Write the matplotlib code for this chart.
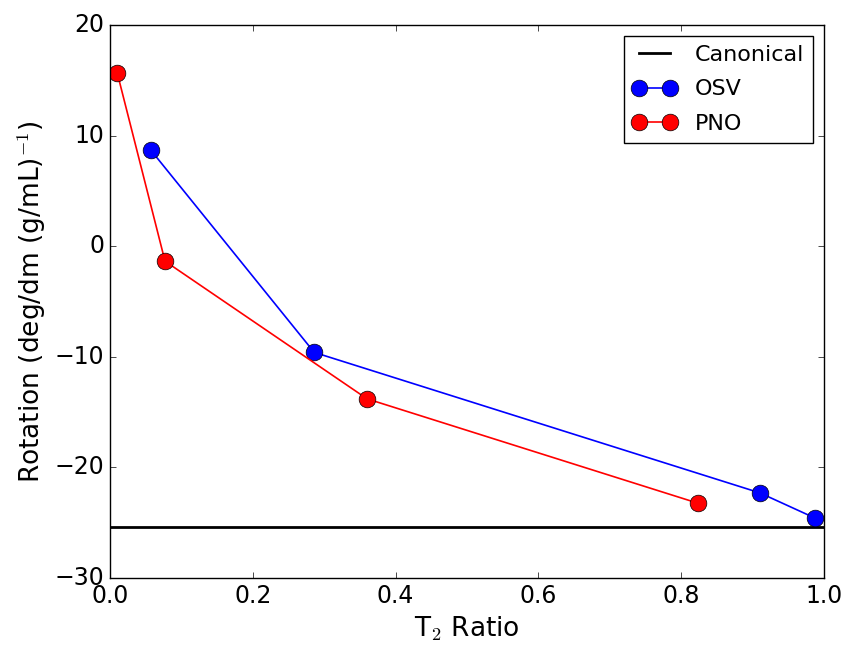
import matplotlib
matplotlib.use("Agg")
import matplotlib.pyplot as plt

# T2 ratio vs. optical rotation for the two truncation schemes
osv_ratio = [0.057, 0.286, 0.910, 0.988]
osv_rot = [8.7, -9.6, -22.3, -24.6]

pno_ratio = [0.010, 0.077, 0.360, 0.824]
pno_rot = [15.7, -1.35, -13.8, -23.25]

canonical_rot = -25.4

plt.style.use("classic")
plt.rcParams["figure.facecolor"] = "white"
plt.rcParams["savefig.facecolor"] = "white"

fig = plt.figure(figsize=(8.47, 6.49), dpi=100)
ax = fig.add_axes([0.1299, 0.1094, 0.843, 0.852])

ax.axhline(canonical_rot, color="black", lw=2, label="Canonical")
ax.plot(osv_ratio, osv_rot, "o-", color="blue", mfc="blue", mec="black",
        ms=12, lw=1.2, label="OSV")
ax.plot(pno_ratio, pno_rot, "o-", color="red", mfc="red", mec="black",
        ms=12, lw=1.2, label="PNO")

ax.set_xlim(0, 1)
ax.set_ylim(-30, 20)
ax.set_xlabel("T$_2$ Ratio", fontsize=19)
ax.set_ylabel("Rotation (deg/dm (g/mL)$^{-1}$)", fontsize=19)
ax.tick_params(labelsize=17)

ax.legend(loc="upper right", fontsize=16, numpoints=2, labelspacing=0.65,
          borderaxespad=0.5)

fig.savefig("out.png", dpi=100)
